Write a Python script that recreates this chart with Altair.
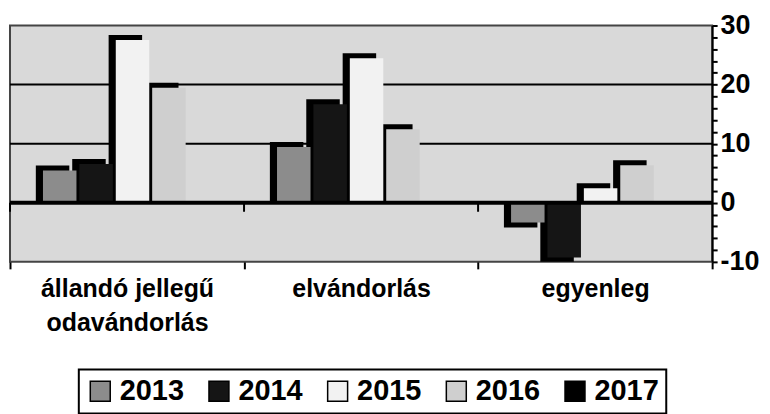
import altair as alt
import pandas as pd

categories = ["állandó jellegű\nodavándorlás", "elvándorlás", "egyenleg"]
years = ["2013", "2014", "2015", "2016", "2017"]
v2013 = [6.3, 10.3, -4.2]
v2014 = [7.4, 17.5, -10.1]
v2015 = [28.4, 25.3, 3.3]
v2016 = [20.3, 13.3, 7.2]
v2017 = [0, 0, 0]
gridlines = [10, 20]
zero_line = [0]
y_ticks = list(range(-10, 31, 2))
colors = ["#8c8c8c", "#151515", "#f2f2f2", "#cfcfcf", "#000000"]

series = {"2013": v2013, "2014": v2014, "2015": v2015, "2016": v2016, "2017": v2017}
rows = [{"cat": c, "year": y, "value": series[y][i], "base": 0}
        for i, c in enumerate(categories) for y in years]
df = pd.DataFrame(rows)
cat_df = pd.DataFrame({"cat": categories, "value": [0] * len(categories)})
grid_df = pd.DataFrame({"value": gridlines})
zero_df = pd.DataFrame({"value": zero_line})

FONT = "Liberation Sans, Arial, sans-serif"

xscale = alt.Scale(domain=categories, paddingInner=0, paddingOuter=0)
xaxis = alt.Axis(title=None, labelAngle=0, labelExpr="split(datum.label, '\\n')",
                 labelFont=FONT, labelFontSize=25, labelFontWeight="bold",
                 labelColor="black", labelLineHeight=34, labelPadding=8,
                 labelLimit=400, tickBand="extent", tickSize=7, tickWidth=2,
                 tickColor="black", domain=False, labelBaseline="top")
yscale = alt.Scale(domain=[-10, 30], nice=False, zero=False)
yaxis = alt.Axis(title=None, orient="right", values=y_ticks,
                 labelExpr="(datum.value % 10 == 0) ? ('' + datum.value) : ''",
                 labelFont=FONT, labelFontSize=27, labelFontWeight="bold",
                 labelColor="black", labelPadding=3, labelAlign="left",
                 labelBaseline="middle",
                 labelOverlap=False, labelFlush=False, grid=False,
                 domain=True, domainColor="black", domainWidth=2,
                 ticks=True, tickSize=5, tickWidth=2, tickColor="black")

x = alt.X("cat:N", sort=categories, scale=xscale, axis=xaxis)
xo_shadow = alt.XOffset("year:N", sort=years,
                        scale=alt.Scale(domain=years, paddingInner=0.08,
                                        paddingOuter=0.755, align=0.47))
xo_fill = alt.XOffset("year:N", sort=years,
                      scale=alt.Scale(domain=years, paddingInner=0.08,
                                      paddingOuter=0.755, align=0.6))
y = alt.Y("value:Q", scale=yscale, axis=yaxis)
y2_base = alt.Y2("base:Q")
color = alt.Color("year:N", sort=years,
                  scale=alt.Scale(domain=years, range=colors),
                  legend=alt.Legend(title=None, orient="none", legendX=69, legendY=345,
                                    direction="horizontal", columns=5,
                                    symbolType="square", symbolSize=400,
                                    symbolStrokeColor="black", symbolStrokeWidth=1.5,
                                    labelFont=FONT, labelFontSize=29,
                                    labelFontWeight="bold", labelColor="black",
                                    labelOffset=5, columnPadding=20, padding=7,
                                    strokeColor="black"))

base = alt.Chart(df)

grid = alt.Chart(grid_df).mark_rule(color="black", strokeWidth=2).encode(y=y)

shadow = base.transform_filter("datum.value != 0").mark_bar(
    color="black", clip=True).encode(x=x, xOffset=xo_shadow, y=y, y2=y2_base)

fill_pos = base.transform_filter("datum.value > 0").mark_bar(
    yOffset=5, y2Offset=0, clip=True).encode(
    x=x, xOffset=xo_fill, y=y, y2=y2_base, color=color)
fill_neg = base.transform_filter("datum.value < 0").mark_bar(
    yOffset=-5, y2Offset=0, clip=True).encode(
    x=x, xOffset=xo_fill, y=y, y2=y2_base, color=color)

zero = alt.Chart(zero_df).mark_rule(color="black", strokeWidth=4).encode(y=y)
zero_ticks = alt.Chart(cat_df).mark_rule(color="black", strokeWidth=2, y2Offset=9).encode(
    x=alt.X("cat:N", sort=categories, scale=xscale, axis=xaxis, bandPosition=0),
    y=y, y2=alt.Y2("value:Q"))

chart = alt.layer(grid, shadow, fill_pos, fill_neg, zero, zero_ticks).resolve_scale(
    xOffset="independent"
).properties(
    width=704, height=237,
    padding={"left": 2, "top": 17, "right": 50, "bottom": 152},
    autosize=alt.AutoSizeParams(type="none"),
    background="white",
).configure_view(fill="#d9d9d9", stroke="#444444", strokeWidth=2
).configure_legend(strokeWidth=2)

chart.save("out.html", embed_options={"renderer": "svg", "actions": False})
